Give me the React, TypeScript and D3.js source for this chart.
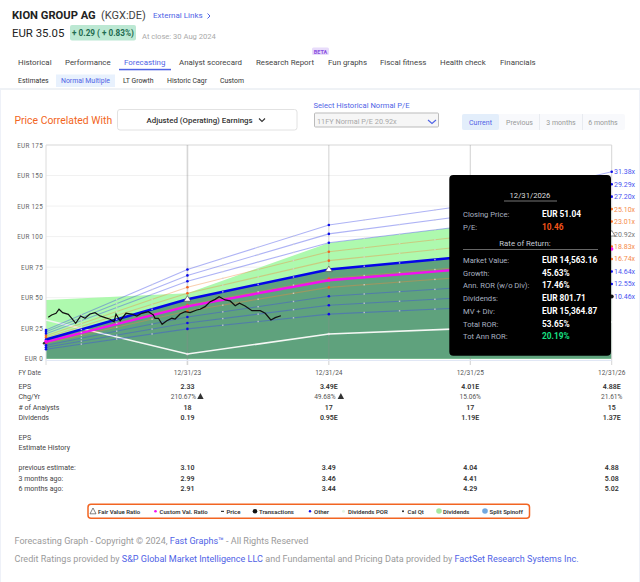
import React, { useEffect, useRef } from "react";
import * as d3 from "d3";

// x positions are years after FY 12/31/22
const fyYears = [0, 1, 2, 3, 4];
const fyLabels = ["12/31/23", "12/31/24", "12/31/25", "12/31/26"];
const quarterTicks = [0.25, 0.5, 0.75, 1.25, 1.5, 1.75, 2.25, 2.5, 2.75, 3.25, 3.5, 3.75];
const priceTicks = [0, 25, 50, 75, 100, 125, 150, 175];

// P/E multiple lines, EUR per share at each FY date
const pe3138 = [23.5, 73.1, 109.5, 125.8, 153.1];
const pe2929 = [22.0, 68.2, 102.2, 117.5, 142.9];
const pe2720 = [20.4, 63.4, 94.9, 109.1, 132.7];
const pe2510 = [18.8, 58.5, 87.6, 100.7, 122.5];
const pe2301 = [17.3, 53.6, 80.3, 92.3, 112.3];
const pe2092 = [15.7, 48.7, 73.0, 83.9, 102.1];
const pe1883 = [14.1, 43.9, 65.7, 75.5, 91.9];
const pe1674 = [12.6, 39.0, 58.4, 67.1, 81.7];
const pe1464 = [11.0, 34.1, 51.1, 58.7, 71.4];
const pe1255 = [9.4, 29.2, 43.8, 50.3, 61.2];
const pe1046 = [7.8, 24.4, 36.5, 41.9, 51.0];
const customRatio = [13.8, 42.9, 64.2, 73.8, 89.8];
const greenTop = [48, 53.7, 94.8, 109, 125];
const whiteLine = [31.7, 3.9, 20.2, 24.8, 30];

const blueLines = [pe3138, pe2929, pe2720, pe1464, pe1255, pe1046];
const orangeLines = [pe2510, pe2301, pe1883, pe1674];
const multipleLabels = ["31.38x", "29.29x", "27.20x", "25.10x", "23.01x", "20.92x", "18.83x", "16.74x", "14.64x", "12.55x", "10.46x"];
const multipleLines = [pe3138, pe2929, pe2720, pe2510, pe2301, pe2092, pe1883, pe1674, pe1464, pe1255, pe1046];
const multipleColors = ["#4a55f0", "#4a55f0", "#4a55f0", "#f58a4a", "#f58a4a", "#777", "#f58a4a", "#f58a4a", "#4a55f0", "#4a55f0", "#4a55f0"];

const priceYears = [0.016, 0.04, 0.071, 0.092, 0.118, 0.158, 0.182, 0.21, 0.245, 0.276, 0.311, 0.347, 0.382, 0.418, 0.453, 0.481, 0.495, 0.524, 0.566, 0.606, 0.642, 0.677, 0.724, 0.759, 0.771, 0.795, 0.821, 0.854, 0.89, 0.913, 0.948, 0.984, 1.019, 1.066, 1.09, 1.125, 1.161, 1.196, 1.224, 1.267, 1.302, 1.338, 1.368, 1.408, 1.456, 1.515, 1.55, 1.59, 1.621, 1.661];
const priceValues = [33.9, 35.8, 37.2, 40.5, 37.7, 36.3, 33.1, 29.0, 35.0, 33.1, 36.6, 37.7, 35.0, 33.6, 32.3, 30.3, 36.6, 31.1, 37.2, 36.6, 35.0, 37.2, 38.5, 35.8, 33.1, 33.1, 28.2, 31.1, 33.1, 32.5, 36.6, 38.5, 37.7, 39.9, 40.5, 42.6, 46.7, 48.6, 50.8, 48.1, 47.3, 43.4, 45.4, 43.2, 39.3, 39.3, 37.2, 31.7, 33.6, 35.2];

const navTabs: [string, number][] = [["Historical", 18], ["Performance", 65], ["Forecasting", 124], ["Analyst scorecard", 179], ["Research Report", 256], ["Fun graphs", 328], ["Fiscal fitness", 380], ["Health check", 440], ["Financials", 500]];
const subTabs: [string, number][] = [["Estimates", 18], ["Normal Multiple", 61], ["LT Growth", 123], ["Historic Cagr", 167], ["Custom", 220]];

const epsRow = ["2.33", "3.49E", "4.01E", "4.88E"];
const chgRow = ["210.67%", "49.68%", "15.06%", "21.61%"];
const analystsRow = ["18", "17", "17", "15"];
const dividendsRow = ["0.19", "0.95E", "1.19E", "1.37E"];
const previousRow = ["3.10", "3.49", "4.04", "4.88"];
const threeMonthsRow = ["2.99", "3.46", "4.41", "5.08"];
const sixMonthsRow = ["2.91", "3.44", "4.29", "5.02"];

const tipRows: [string, string][] = [["Market Value:", "EUR 14,563.16"], ["Growth:", "45.63%"], ["Ann. ROR (w/o Div):", "17.46%"], ["Dividends:", "EUR 801.71"], ["MV + Div:", "EUR 15,364.87"], ["Total ROR:", "53.65%"], ["Tot Ann ROR:", "20.19%"]];

const FONT = "Roboto, sans-serif";
const BLUE = "#4f63e6";
const ORANGE = "#f26522";

const x = d3.scaleLinear().domain([0, 4]).range([46, 611.7]);
const y = d3.scaleLinear().domain([0, 175]).range([358.7, 145]);

const line = d3.line<number>().x((_, i) => x(fyYears[i])).y((d) => y(d));
const priceLine = d3.line<number>().x((_, i) => x(priceYears[i])).y((d) => y(d));
const areaUnder = d3.area<number>().x((_, i) => x(fyYears[i])).y0(y(0)).y1((d) => y(d));
const at = (s: number[], t: number) => d3.scaleLinear().domain(fyYears).range(s)(t);

const Warn = ({ cx, cy }: { cx: number; cy: number }) => (
  <path d={`M${cx},${cy - 3.5}L${cx + 3.2},${cy + 2.5}L${cx - 3.2},${cy + 2.5}Z`} fill="#333" />
);

const TableRow = ({ yPos, label, vals }: { yPos: number; label: string; vals?: string[] }) => (
  <g fontSize={7} fill="#444">
    <text x={18.5} y={yPos}>{label}</text>
    {vals?.map((v, i) => (
      <text key={i} x={x(i + 1)} y={yPos} textAnchor="middle" fontWeight={600} fill="#333">{v}</text>
    ))}
  </g>
);

export default function App() {
  const axisRef = useRef<SVGGElement>(null);

  useEffect(() => {
    if (!axisRef.current) return;
    const g = d3.select(axisRef.current);
    g.selectAll("*").remove();
    const axis = g.append("g").attr("transform", "translate(46,0)").call(
      d3.axisLeft(y).tickValues(priceTicks).tickSize(0).tickPadding(3).tickFormat((d) => `EUR ${d}`)
    );
    axis.select(".domain").remove();
    axis.selectAll("text").attr("fill", "#666").attr("font-size", 6.3).attr("font-family", FONT).attr("letter-spacing", 0.3);
  }, []);

  return (
    <svg width={640} height={582} viewBox="0 0 640 582" fontFamily={FONT} style={{ position: "absolute", left: 0, top: 0, background: "#fff" }}>
      {/* header */}
      <text x={12} y={19} fontSize={11.2} fontWeight={700} fill="#222">KION GROUP AG</text>
      <text x={101} y={19} fontSize={11} fill="#444">(KGX:DE)</text>
      <text x={153} y={18} fontSize={8} fill={BLUE}>External Links</text>
      <path d="M207.5,13.5l2.5,2.5l-2.5,2.5" fill="none" stroke={BLUE} />
      <text x={12} y={37} fontSize={11.4} fill="#222">EUR 35.05</text>
      <rect x={70} y={25} width={66} height={15.5} rx={2} fill="#bce8d3" />
      <text x={103} y={36} fontSize={8.2} fontWeight={700} fill="#1f6b50" textAnchor="middle">+ 0.29 ( + 0.83%)</text>
      <text x={142} y={39} fontSize={7.6} fill="#aaa">At close: 30 Aug 2024</text>

      {/* tabs */}
      {navTabs.map(([t, tx]) => (
        <text key={t} x={tx} y={64.5} fontSize={7.9} fill={t === "Forecasting" ? BLUE : "#444"}>{t}</text>
      ))}
      <rect x={119} y={68.8} width={52} height={1.5} fill={BLUE} />
      <rect x={312} y={47.5} width={17} height={7.5} rx={1.5} fill="#e8dcfb" />
      <text x={320.5} y={53.5} fontSize={5.5} fontWeight={700} fill="#8a4fe0" textAnchor="middle">BETA</text>
      <rect x={56} y={74.5} width={59} height={12.5} fill="#e8f1fd" />
      {subTabs.map(([t, tx]) => (
        <text key={t} x={tx} y={83} fontSize={6.9} fill={t === "Normal Multiple" ? BLUE : "#333"}>{t}</text>
      ))}
      <line x1={0} x2={640} y1={89} y2={89} stroke="#dfe5ec" />
      <line x1={0.5} x2={0.5} y1={89} y2={582} stroke="#eef1f8" />
      <line x1={639.5} x2={639.5} y1={89} y2={582} stroke="#eef1f8" />

      {/* controls */}
      <text x={14.5} y={124} fontSize={10.4} fill={ORANGE}>Price Correlated With</text>
      <rect x={117.5} y={109.5} width={179.5} height={20.5} rx={2.5} fill="#fff" stroke="#e2e2e2" />
      <text x={146.5} y={123} fontSize={7.9} fontWeight={500} fill="#333">Adjusted (Operating) Earnings</text>
      <path d="M259,118.5l3,3l3,-3" fill="none" stroke="#333" strokeWidth={1.1} />
      <text x={313.5} y={108} fontSize={7.6} fill={BLUE}>Select Historical Normal P/E</text>
      <rect x={314.5} y={113} width={124} height={14} rx={1} fill="#f6f6f6" stroke="#bbb" />
      <text x={317} y={124} fontSize={7.3} fill="#a8a8a8">11FY Normal P/E 20.92x</text>
      <path d="M428,120l4,3.5l4,-3.5" fill="none" stroke={BLUE} strokeWidth={1.1} />
      <rect x={462} y={114} width={163} height={16} rx={2} fill="#f8f9fc" />
      <rect x={462} y={114} width={37} height={16} rx={2} fill="#e3eefb" />
      <line x1={539.5} x2={539.5} y1={114} y2={130} stroke="#e8ebf0" />
      <line x1={582.5} x2={582.5} y1={114} y2={130} stroke="#e8ebf0" />
      <text x={480.5} y={124.5} fontSize={7} fill={BLUE} textAnchor="middle">Current</text>
      <text x={519.5} y={124.5} fontSize={7} fill="#999" textAnchor="middle">Previous</text>
      <text x={561} y={124.5} fontSize={7} fill="#999" textAnchor="middle">3 months</text>
      <text x={603} y={124.5} fontSize={7} fill="#999" textAnchor="middle">6 months</text>

      {/* gridlines */}
      {priceTicks.slice(1).map((t) => (
        <line key={t} x1={46} x2={611.7} y1={y(t)} y2={y(t)} stroke={t === 175 ? "#e4e4e4" : "#f1f1f1"} strokeWidth={t === 175 ? 1.5 : 1} />
      ))}
      <g ref={axisRef} />

      {/* areas */}
      <path d={areaUnder(greenTop) ?? ""} fill="#aef9ae" />
      <path d={areaUnder(pe2092) ?? ""} fill="#5fa27d" />

      {/* verticals */}
      <line x1={46} x2={46} y1={145} y2={365} stroke="#dcdcdc" />
      <line x1={x(1)} x2={x(1)} y1={145} y2={365} stroke="#8a8a8a" strokeOpacity={0.35} strokeWidth={1.6} />
      <line x1={x(2)} x2={x(2)} y1={145} y2={365} stroke="#8a8a8a" strokeOpacity={0.4} />
      <line x1={x(3)} x2={x(3)} y1={145} y2={365} stroke="#8a8a8a" strokeOpacity={0.4} />
      <line x1={x(4)} x2={x(4)} y1={145} y2={365} stroke="#d5d5d5" />
      <line x1={46} x2={611.7} y1={360.5} y2={360.5} stroke="#e1e7f5" />

      {/* multiple lines */}
      <path d={line(whiteLine) ?? ""} fill="none" stroke="#f4f7f4" strokeWidth={1.6} />
      {blueLines.map((s, i) => (
        <path key={i} d={line(s) ?? ""} fill="none" stroke="#3f4be8" strokeOpacity={0.42} strokeWidth={1.1} />
      ))}
      {orangeLines.map((s, i) => (
        <path key={i} d={line(s) ?? ""} fill="none" stroke="#f08a3c" strokeOpacity={0.4} strokeWidth={1.1} />
      ))}
      <path d={line(customRatio) ?? ""} fill="none" stroke="#f50ff0" strokeWidth={2.4} />
      <path d={line(pe2092) ?? ""} fill="none" stroke="#0505e8" strokeWidth={2.4} />

      {/* quarter markers */}
      {quarterTicks.map((q) =>
        multipleLines.map((s, i) => (
          <rect key={`${q}-${i}`} x={x(q) - 0.7} y={y(at(s, q)) - 0.7} width={1.4} height={1.4} fill="#d6d6d6" fillOpacity={0.85} />
        ))
      )}

      {/* FY markers */}
      {[0, 1, 2, 4].map((fy) =>
        multipleLines.map((s, i) => (
          <circle key={`${fy}-${i}`} cx={x(fy)} cy={y(s[fy])} r={1.3} fill={multipleColors[i] === "#f58a4a" ? "#f2641e" : "#0a0ae8"} />
        ))
      )}
      <circle cx={x(0)} cy={y(customRatio[0])} r={2} fill="#f50ff0" />
      <circle cx={x(1)} cy={y(customRatio[1])} r={1.5} fill="#f50ff0" />
      <circle cx={x(2)} cy={y(customRatio[2])} r={1.5} fill="#f50ff0" />
      <circle cx={x(4)} cy={y(customRatio[4])} r={1.7} fill="#f50ff0" />
      <circle cx={x(0) - 2} cy={y(pe1674[0])} r={1.2} fill="#333" />
      <circle cx={x(4)} cy={y(pe1046[4])} r={2} fill="#111" />
      <circle cx={x(1)} cy={y(whiteLine[1])} r={1.2} fill="#e6e6e6" />
      <circle cx={x(2)} cy={y(whiteLine[2])} r={1.2} fill="#e6e6e6" />
      {[1, 2, 4].map((fy) => (
        <path key={fy} d={`M${x(fy)},${y(pe2092[fy]) - 3.5}L${x(fy) + 3.5},${y(pe2092[fy]) + 2}L${x(fy) - 3.5},${y(pe2092[fy]) + 2}Z`} fill="#fff" stroke="#555" strokeWidth={0.7} />
      ))}

      {/* price */}
      <path d={priceLine(priceValues) ?? ""} fill="none" stroke="#111" strokeWidth={1.25} />

      {/* multiple labels */}
      {multipleLabels.map((t, i) => (
        <text key={t} x={614} y={y(multipleLines[i][4]) + 2.5} fontSize={7} fill={multipleColors[i]}>{t}</text>
      ))}

      {/* tooltip */}
      <rect x={449.3} y={175} width={161.7} height={180.7} rx={4} fill="#000" />
      <text x={530} y={197.5} fontSize={7.7} fill="#ddd" textAnchor="middle">12/31/2026</text>
      <line x1={504} x2={557} y1={201} y2={201} stroke="#777" />
      <text x={463} y={217} fontSize={7.6} fill="#aab2c0">Closing Price:</text>
      <text x={542} y={217} fontSize={8.3} fontWeight={700} fill="#fff">EUR 51.04</text>
      <text x={463} y={229.7} fontSize={7.6} fill="#aab2c0">P/E:</text>
      <text x={542} y={229.7} fontSize={8.3} fontWeight={700} fill="#f2541a">10.46</text>
      <text x={525} y={246} fontSize={7.8} fill="#c4cad4" textAnchor="middle">Rate of Return:</text>
      <line x1={463} x2={598} y1={249.5} y2={249.5} stroke="#666" />
      {tipRows.map(([l, v], i) => (
        <g key={l}>
          <text x={463} y={263 + i * 12.7} fontSize={7.6} fill="#aab2c0">{l}</text>
          <text x={542} y={263 + i * 12.7} fontSize={8.3} fontWeight={700} fill={l === "Tot Ann ROR:" ? "#17e084" : "#fff"}>{v}</text>
        </g>
      ))}

      {/* table */}
      <text x={18.5} y={374.5} fontSize={6.5} fill="#555">FY Date</text>
      {fyLabels.map((t, i) => (
        <text key={t} x={x(i + 1)} y={374.5} fontSize={6.5} fill="#555" textAnchor="middle">{t}</text>
      ))}
      <TableRow yPos={389} label="EPS" vals={epsRow} />
      <text x={18.5} y={399} fontSize={7} fill="#444">Chg/Yr</text>
      {chgRow.map((v, i) => (
        <text key={v} x={x(i + 1) - (i < 2 ? 4 : 0)} y={399} fontSize={6.6} fill="#555" textAnchor="middle">{v}</text>
      ))}
      <Warn cx={x(1) + 13} cy={396.5} />
      <Warn cx={x(2) + 12} cy={396.5} />
      <TableRow yPos={409.5} label="# of Analysts" vals={analystsRow} />
      <TableRow yPos={419.5} label="Dividends" vals={dividendsRow} />
      <TableRow yPos={440} label="EPS" />
      <TableRow yPos={450} label="Estimate History" />
      <TableRow yPos={470} label="previous estimate:" vals={previousRow} />
      <TableRow yPos={480.5} label="3 months ago:" vals={threeMonthsRow} />
      <TableRow yPos={490.5} label="6 months ago:" vals={sixMonthsRow} />

      {/* legend */}
      <rect x={88} y={504.2} width={441.5} height={14} rx={3} fill="#fff" stroke={ORANGE} strokeWidth={1.5} />
      <g fontSize={6} fontWeight={600} fill="#333">
        <path d="M93,508L96,513.8L90,513.8Z" fill="#fff" stroke="#333" strokeWidth={0.6} />
        <text x={98} y={513.5}>Fair Value Ratio</text>
        <circle cx={155.5} cy={511.3} r={1.3} fill="#f50ff0" />
        <text x={159.6} y={513.5}>Custom Val. Ratio</text>
        <rect x={221} y={510.8} width={3} height={1.1} fill="#222" />
        <text x={226.5} y={513.5}>Price</text>
        <circle cx={255} cy={511.3} r={2.3} fill="#111" />
        <text x={259} y={513.5}>Transactions</text>
        <circle cx={310} cy={511.3} r={1.2} fill="#1212e8" />
        <text x={314} y={513.5}>Other</text>
        <circle cx={343.5} cy={511.3} r={1.5} fill="#e4f5e4" />
        <text x={348} y={513.5}>Dividends POR</text>
        <circle cx={403} cy={511.3} r={1} fill="#222" />
        <text x={407.5} y={513.5}>Cal Qt</text>
        <circle cx={439} cy={511} r={2.8} fill="#a5e8a0" />
        <text x={443} y={513.5}>Dividends</text>
        <circle cx={485} cy={511} r={2.8} fill="#72a8e0" />
        <text x={489.5} y={513.5}>Split Spinoff</text>
      </g>

      {/* footer */}
      <text x={14.5} y={544} fontSize={9.05} fill="#9a9a9a">
        Forecasting Graph - Copyright © 2024, <tspan fill={BLUE}>Fast Graphs™</tspan> - All Rights Reserved
      </text>
      <text x={14.5} y={561.5} fontSize={9.05} fill="#9a9a9a">
        Credit Ratings provided by <tspan fill={BLUE}>S&amp;P Global Market Intelligence LLC</tspan> and Fundamental and Pricing Data provided by <tspan fill={BLUE}>FactSet Research Systems Inc.</tspan>
      </text>
    </svg>
  );
}
